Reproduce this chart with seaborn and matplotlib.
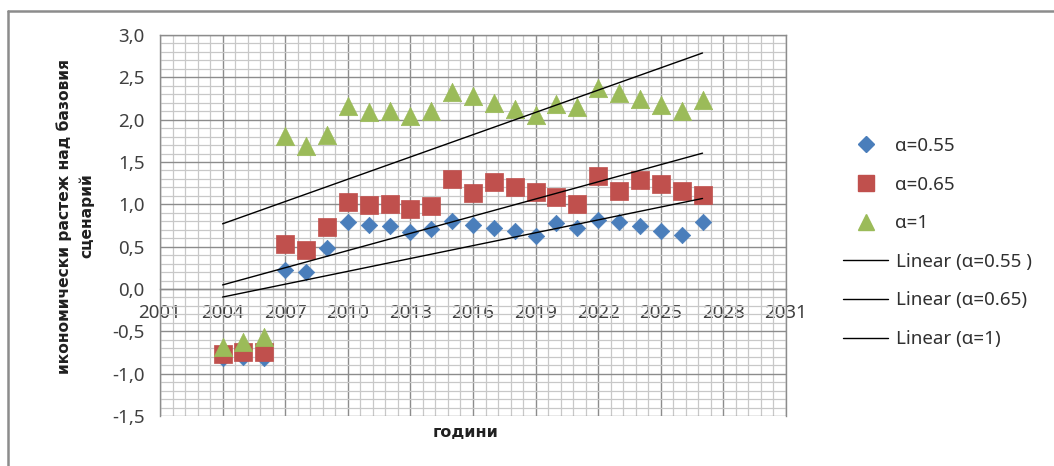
import matplotlib
matplotlib.use("Agg")
import matplotlib.pyplot as plt
from matplotlib.ticker import MultipleLocator, FuncFormatter
from matplotlib.lines import Line2D
import numpy as np
import pandas as pd
import seaborn as sns

# ---- data -------------------------------------------------------------
years = list(range(2004, 2028))
growth_055 = [-0.82, -0.80, -0.82, 0.23, 0.20, 0.48, 0.79, 0.76, 0.74, 0.67,
              0.71, 0.80, 0.76, 0.72, 0.68, 0.63, 0.78, 0.72, 0.81, 0.79,
              0.74, 0.69, 0.64, 0.79]
growth_065 = [-0.77, -0.74, -0.74, 0.53, 0.46, 0.73, 1.03, 0.99, 1.00, 0.94,
              0.98, 1.30, 1.13, 1.26, 1.20, 1.14, 1.09, 1.00, 1.34, 1.16,
              1.29, 1.24, 1.16, 1.11]
growth_1 = [-0.69, -0.63, -0.57, 1.81, 1.69, 1.82, 2.16, 2.09, 2.10, 2.04,
            2.10, 2.33, 2.28, 2.20, 2.13, 2.05, 2.19, 2.15, 2.37, 2.32,
            2.25, 2.17, 2.10, 2.23]
series_labels = ["α=0.55", "α=0.65", "α=1"]
trend_labels = ["Linear (α=0.55 )", "Linear (α=0.65)", "Linear (α=1)"]
x_ticks = list(range(2001, 2032, 3))
y_ticks = [-1.5, -1.0, -0.5, 0.0, 0.5, 1.0, 1.5, 2.0, 2.5, 3.0]

# ---- style ------------------------------------------------------------
sns.set_style("white")
plt.rcParams["font.family"] = ["Noto Sans", "DejaVu Sans"]
TITLE_FONT = ["DejaVu Sans"]

W, H = 1054, 466
fig = plt.figure(figsize=(W / 100, H / 100), dpi=100)
fig.patch.set_facecolor("white")

def fx(px):
    return px / W

def fy(py):
    return 1 - py / H

ax = fig.add_axes([fx(160), fy(416), fx(786) - fx(160), fy(35) - fy(416)])

colors = ["#4A7EBB", "#C0504D", "#9BBB59"]
markers = ["D", "s", "^"]
sizes = [70, 165, 175]

df = pd.DataFrame({
    "year": years * 3,
    "value": growth_055 + growth_065 + growth_1,
    "series": sum([[lab] * len(years) for lab in series_labels], []),
})

for lab, col, mk, sz in zip(series_labels, colors, markers, sizes):
    sub = df[df["series"] == lab]
    sns.scatterplot(data=sub, x="year", y="value", marker=mk, s=sz,
                    color=col, edgecolor=col, linewidth=0.5, ax=ax,
                    legend=False, zorder=3)

# least-squares trend line for each series over its own year range
for lab in series_labels:
    sub = df[df["series"] == lab]
    sns.regplot(data=sub, x="year", y="value", scatter=False, ci=None,
                truncate=True, color="black", line_kws={"lw": 1.0, "zorder": 4},
                ax=ax)

# ---- axes -------------------------------------------------------------
ax.set_xlim(2001, 2031)
ax.set_ylim(-1.5, 3.0)
ax.set_xticks(x_ticks)
ax.set_yticks(y_ticks)
ax.xaxis.set_minor_locator(MultipleLocator(0.6))
ax.yaxis.set_minor_locator(MultipleLocator(0.1))
ax.yaxis.set_major_formatter(FuncFormatter(lambda v, p: f"{v:.1f}".replace(".", ",")))
ax.xaxis.set_major_formatter(FuncFormatter(lambda v, p: f"{int(round(v))}"))

ax.grid(which="major", color="#8C8C8C", lw=1.0, zorder=0)
ax.grid(which="minor", color="#C8C8C8", lw=0.9, zorder=0)
ax.set_axisbelow(True)

for side in ["left", "top", "right", "bottom"]:
    ax.spines[side].set_color("#8C8C8C")
    ax.spines[side].set_linewidth(1.0)
ax.spines["bottom"].set_position(("data", 0))

ax.tick_params(axis="y", which="major", direction="out", length=7,
               color="#8C8C8C", labelsize=13.5, pad=4, labelcolor="#404040")
ax.tick_params(axis="x", which="major", direction="out", length=5,
               color="#8C8C8C", labelsize=13.5, pad=6, labelcolor="#404040")
ax.tick_params(which="minor", length=0)

ax.set_xlabel("години", fontsize=11.5, fontweight="bold", color="#202020",
              family=TITLE_FONT)
ax.xaxis.set_label_coords((466 - 160) / 626, (416 - 425) / 381)
ax.set_ylabel("")
fig.text(fx(75), fy(216), "икономически растеж над базовия\nсценарий",
         rotation=90, ha="center", va="center", multialignment="center",
         fontsize=11.2, fontweight="bold", color="#202020", linespacing=1.55,
         family=TITLE_FONT)

# ---- legend -----------------------------------------------------------
handles = [Line2D([], [], ls="none", marker=m, color=c, markersize=ms,
                  markeredgecolor=c)
           for m, c, ms in zip(markers, colors, [8, 11, 12])]
handles += [Line2D([], [], color="black", lw=1.0) for _ in trend_labels]
fig.legend(handles, series_labels + trend_labels, loc="upper left",
           bbox_to_anchor=(fx(843), fy(137)), frameon=False, fontsize=13.5,
           handlelength=2.4, handletextpad=0.4, labelspacing=1.1,
           borderpad=0, borderaxespad=0, labelcolor="#303030")

# ---- chart area border ------------------------------------------------
fig.add_artist(Line2D([fx(8), fx(8)], [0, fy(11)], color="#8C8C8C", lw=1.8))
fig.add_artist(Line2D([fx(8), 1], [fy(11), fy(11)], color="#8C8C8C", lw=1.8))

fig.savefig("out.png", dpi=100)
